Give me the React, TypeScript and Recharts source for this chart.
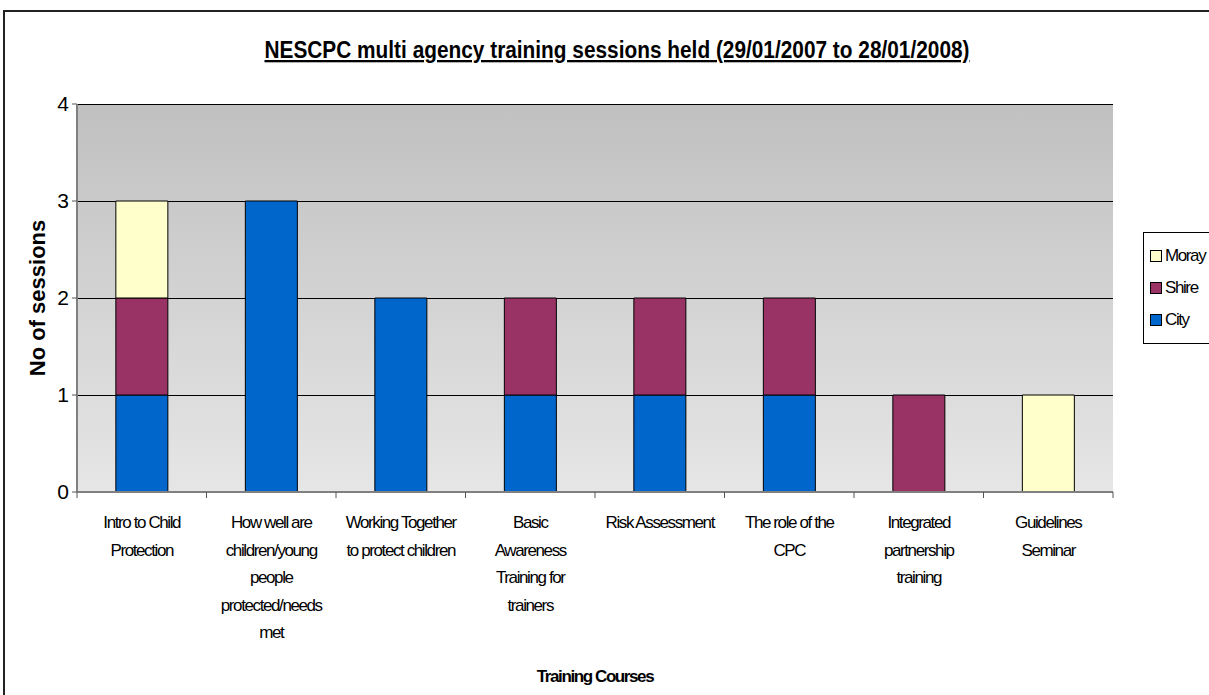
import { Bar, BarChart, CartesianGrid, Customized, Legend, XAxis, YAxis } from "recharts"

const courses = [
  "Intro to Child\nProtection",
  "How well are\nchildren/young\npeople\nprotected/needs\nmet",
  "Working Together\nto protect children",
  "Basic\nAwareness\nTraining for\ntrainers",
  "Risk Assessment",
  "The role of the\nCPC",
  "Integrated\npartnership\ntraining",
  "Guidelines\nSeminar",
]
const city = [1, 3, 2, 1, 1, 1, 0, 0]
const shire = [1, 0, 0, 1, 1, 1, 1, 0]
const moray = [1, 0, 0, 0, 0, 0, 0, 1]
const yTicks = [0, 1, 2, 3, 4]
const legendOrder = ["Moray", "Shire", "City"]

const data = courses.map((name, i) => ({ name, city: city[i], shire: shire[i], moray: moray[i] }))

const FONT = '"Liberation Sans", Arial, sans-serif'

const CourseTick = (props: any) => {
  const { x, y, payload, index, visibleTicksCount, width } = props
  const lines = String(payload.value).split("\n")
  const half = (width || 1036) / (visibleTicksCount || 8) / 2
  const isLast = index === visibleTicksCount - 1
  return (
    <g>
      <line x1={x - half} x2={x - half} y1={y} y2={y + 6} stroke="#555" />
      {isLast && <line x1={x + half} x2={x + half} y1={y} y2={y + 6} stroke="#555" />}
      <text x={x} y={y + 36} textAnchor="middle" fontSize={17} fontFamily={FONT} letterSpacing={-1.4} fill="#000">
        {lines.map((l, i) => (
          <tspan key={i} x={x} dy={i === 0 ? 0 : 27.5}>{l}</tspan>
        ))}
      </text>
    </g>
  )
}

const SeriesLegend = (props: any) => {
  const items = [...(props.payload || [])].sort(
    (a: any, b: any) => legendOrder.indexOf(a.value) - legendOrder.indexOf(b.value)
  )
  return (
    <div style={{ border: "1.5px solid #000", background: "#fff", padding: "7px 6px", width: 90, boxSizing: "border-box" }}>
      {items.map((item: any) => (
        <div key={item.value} style={{ display: "flex", alignItems: "center", height: 32, fontFamily: FONT, fontSize: 17, letterSpacing: -1.4, color: "#000" }}>
          <span style={{ width: 10, height: 10, background: item.color, border: "1px solid #000", marginRight: 3, display: "inline-block" }} />
          {item.value}
        </div>
      ))}
    </div>
  )
}

const ChartTitle = () => (
  <text
    x={617}
    y={58}
    textAnchor="middle"
    fontFamily={FONT}
    fontWeight="bold"
    fontSize={23}
    textLength={705}
    lengthAdjust="spacingAndGlyphs"
    textDecoration="underline"
    fill="#000"
  >
    NESCPC multi agency training sessions held  (29/01/2007 to 28/01/2008)
  </text>
)

const App = () => {
  return (
    <div style={{ position: "absolute", left: 0, top: 0, width: 1209, height: 695, overflow: "hidden", background: "#fff" }}>
      <div style={{ position: "absolute", left: 3, top: 10, width: 1300, height: 800, border: "2px solid #222" }} />
      <div style={{ position: "absolute", left: 0, top: 0 }}>
        <BarChart
          width={1209}
          height={695}
          data={data}
          margin={{ top: 104, right: 96, bottom: 0, left: 0 }}
          barCategoryGap="30%"
        >
          <defs>
            <linearGradient id="plotBg" x1="0" y1="0" x2="0" y2="1">
              <stop offset="0%" stopColor="#c0c0c0" />
              <stop offset="100%" stopColor="#e6e6e6" />
            </linearGradient>
          </defs>
          <CartesianGrid vertical={false} stroke="#000" strokeWidth={1} shapeRendering="crispEdges" fill="url(#plotBg)" fillOpacity={1} />
          <XAxis
            dataKey="name"
            interval={0}
            height={203}
            tickSize={0}
            tickMargin={0}
            tick={<CourseTick />}
            axisLine={{ stroke: "#808080", strokeWidth: 2 }}
            label={{ value: "Training Courses", position: "insideBottom", offset: 13, style: { fontFamily: FONT, fontWeight: "bold", fontSize: 17, letterSpacing: -1.4, fill: "#000" } }}
          />
          <XAxis xAxisId="top" orientation="top" dataKey="name" height={0} tick={false} tickLine={false} axisLine={{ stroke: "#808080", strokeWidth: 2 }} />
          <YAxis
            width={77}
            domain={[0, 4]}
            ticks={yTicks}
            interval={0}
            tickSize={5}
            tickMargin={3}
            tickLine={{ stroke: "#555" }}
            axisLine={{ stroke: "#808080", strokeWidth: 2 }}
            tick={{ fill: "#000", fontSize: 21, fontFamily: FONT }}
            label={{ value: "No of sessions", angle: -90, position: "center", dx: -1, style: { fontFamily: FONT, fontWeight: "bold", fontSize: 22, fill: "#000" } }}
          />
          <YAxis yAxisId="right" orientation="right" width={0} domain={[0, 4]} tick={false} tickLine={false} axisLine={{ stroke: "#808080", strokeWidth: 2 }} />
          <Legend
            layout="vertical"
            align="center"
            verticalAlign="middle"
            content={<SeriesLegend />}
            wrapperStyle={{ left: 1143, top: 232, width: 90 }}
          />
          <Bar dataKey="city" name="City" stackId="a" fill="#0066CC" stroke="#000" strokeWidth={1} isAnimationActive={false} />
          <Bar dataKey="shire" name="Shire" stackId="a" fill="#993366" stroke="#000" strokeWidth={1} isAnimationActive={false} />
          <Bar dataKey="moray" name="Moray" stackId="a" fill="#FFFFCC" stroke="#000" strokeWidth={1} isAnimationActive={false} />
          <Customized component={ChartTitle} />
        </BarChart>
      </div>
    </div>
  )
}

export default App
